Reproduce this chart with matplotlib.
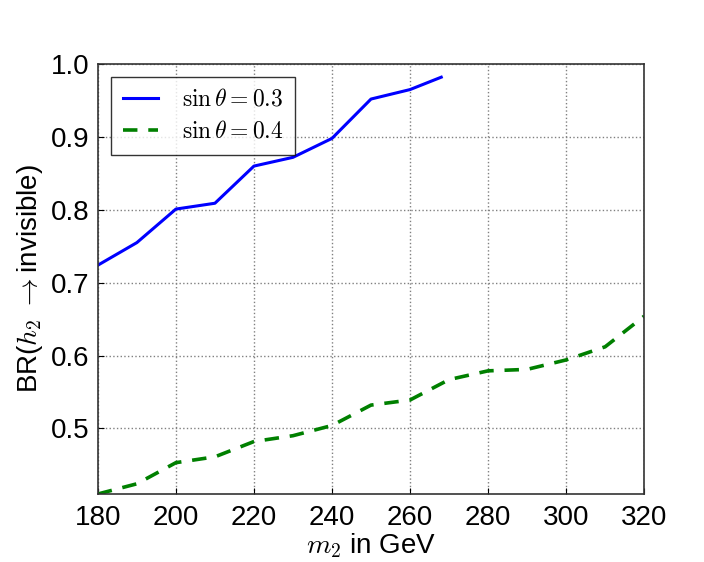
import numpy as np
import matplotlib
matplotlib.use('Agg')
import matplotlib.pyplot as plt
import matplotlib as mpl

mpl.rcParams.update({
    'font.family': 'Liberation Sans',
    'mathtext.fontset': 'cm',
})

# --- data ---
m2_a = [180, 190, 200, 210, 220, 230, 240, 250, 260, 268]
br_a = [0.724, 0.755, 0.801, 0.809, 0.860, 0.872, 0.898, 0.952, 0.965, 0.982]

m2_b = [180, 190, 200, 210, 220, 230, 240, 250, 260, 270, 280, 290, 300, 310, 320]
br_b = [0.410, 0.424, 0.453, 0.461, 0.482, 0.490, 0.504, 0.532, 0.539, 0.567,
        0.579, 0.581, 0.594, 0.612, 0.654]

labels = [r'$\sin\theta = 0.3$', r'$\sin\theta = 0.4$']
xticks = [180, 200, 220, 240, 260, 280, 300, 320]
yticks = [0.5, 0.6, 0.7, 0.8, 0.9, 1.0]

fig = plt.figure(figsize=(7.04, 5.62), dpi=100)
ax = fig.add_axes([0.139, 0.121, 0.776, 0.765])

ax.plot(m2_a, br_a, color='#0000ff', linewidth=2.2, label=labels[0])
ax.plot(m2_b, br_b, color='#008000', linewidth=2.6, linestyle='--',
        dashes=(4, 3), label=labels[1])

ax.set_xlim(180, 320)
ax.set_ylim(0.41, 1.0)
ax.set_xticks(xticks)
ax.set_yticks(yticks)
ax.set_yticklabels(['%.1f' % v for v in yticks])
ax.grid(True, color='#808080', linestyle=':', linewidth=1.0)
ax.tick_params(direction='in', length=4, labelsize=20, pad=6, colors='black')
ax.tick_params(axis='x', pad=8)
for s in ax.spines.values():
    s.set_color('#333333')
    s.set_linewidth(1.2)

ax.set_xlabel(r'$m_2$ in GeV', fontsize=20, labelpad=0)
ax.set_ylabel(r'BR($h_2$ $\rightarrow$invisible)', fontsize=20, labelpad=4)

leg = ax.legend(loc='upper left', fontsize=17, handlelength=1.5,
                handletextpad=1.0, fancybox=False, borderpad=0.5,
                labelspacing=0.42, bbox_to_anchor=(0.0, 1.0), borderaxespad=0.55)
leg.get_frame().set_edgecolor('black')
leg.get_frame().set_linewidth(1.0)

fig.savefig('out.png', dpi=100)
